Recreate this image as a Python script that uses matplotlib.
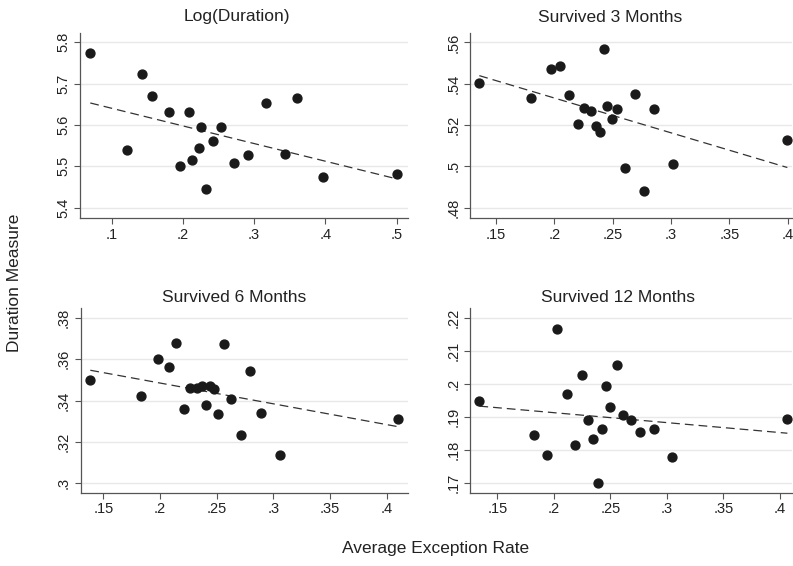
import numpy as np
import matplotlib
matplotlib.use("Agg")
import matplotlib.pyplot as plt

plt.rcParams['font.family'] = ['Liberation Sans', 'DejaVu Sans']

# Log(Duration)
x_log = [0.070, 0.122, 0.143, 0.156, 0.180, 0.2085, 0.196, 0.226, 0.2535, 0.222,
         0.213, 0.242, 0.232, 0.272, 0.291, 0.316, 0.360, 0.343, 0.396, 0.501]
y_log = [5.773, 5.540, 5.723, 5.669, 5.630, 5.630, 5.500, 5.594, 5.595, 5.545,
         5.515, 5.560, 5.444, 5.508, 5.526, 5.652, 5.666, 5.529, 5.473, 5.480]
fit_log = [5.653, 5.469]   # fitted values at min / max x

# Survived 3 Months
x_3m = [0.1357, 0.1803, 0.1969, 0.2049, 0.2123, 0.220, 0.2257, 0.2314, 0.2357, 0.2391,
        0.2423, 0.2454, 0.2497, 0.254, 0.2609, 0.2689, 0.2771, 0.2857, 0.3017, 0.3997]
y_3m = [0.5403, 0.5331, 0.5473, 0.5487, 0.5344, 0.5203, 0.5284, 0.5269, 0.5197, 0.5166,
        0.5568, 0.5290, 0.5227, 0.5276, 0.4994, 0.5352, 0.4881, 0.5276, 0.5013, 0.5127]
fit_3m = [0.5439, 0.4994]

# Survived 6 Months
x_6m = [0.1385, 0.1835, 0.1985, 0.2076, 0.2144, 0.2209, 0.2265, 0.2324, 0.2374, 0.2409,
        0.2438, 0.2476, 0.2515, 0.2565, 0.2629, 0.2712, 0.2794, 0.2891, 0.3056, 0.4097]
y_6m = [0.3497, 0.3422, 0.3602, 0.3562, 0.3678, 0.3361, 0.3460, 0.3462, 0.3472, 0.3377,
        0.3468, 0.3454, 0.3335, 0.3674, 0.3406, 0.3232, 0.3541, 0.3341, 0.3135, 0.3309]
fit_6m = [0.3546, 0.3274]

# Survived 12 Months
x_12m = [0.1341, 0.1821, 0.1939, 0.2025, 0.2116, 0.2184, 0.2249, 0.2302, 0.2349, 0.239,
         0.2423, 0.2458, 0.2499, 0.2555, 0.2614, 0.2685, 0.2762, 0.2886, 0.3048, 0.4065]
y_12m = [0.1946, 0.1845, 0.1785, 0.2165, 0.1970, 0.1814, 0.2026, 0.1891, 0.1833, 0.1698,
         0.1862, 0.1993, 0.1929, 0.2056, 0.1904, 0.1891, 0.1855, 0.1862, 0.1779, 0.1893]
fit_12m = [0.1932, 0.1850]

titles = ["Log(Duration)", "Survived 3 Months", "Survived 6 Months", "Survived 12 Months"]
xticks_all = [[0.1, 0.2, 0.3, 0.4, 0.5],
              [0.15, 0.2, 0.25, 0.3, 0.35, 0.4],
              [0.15, 0.2, 0.25, 0.3, 0.35, 0.4],
              [0.15, 0.2, 0.25, 0.3, 0.35, 0.4]]
yticks_all = [[5.4, 5.5, 5.6, 5.7, 5.8],
              [0.48, 0.5, 0.52, 0.54, 0.56],
              [0.3, 0.32, 0.34, 0.36, 0.38],
              [0.17, 0.18, 0.19, 0.2, 0.21, 0.22]]


def lab(v):
    s = ('%.2f' % v).rstrip('0').rstrip('.')
    if s.startswith('0.'):
        s = s[1:]
    return s


W, H = 793, 566
fig = plt.figure(figsize=(W / 100, H / 100), dpi=100)

# axes boxes in pixels: left, right, top, bottom
boxes = [(80.3, 408.3, 32.7, 218.3), (470, 792, 32.7, 218.3),
         (80.7, 408.3, 308.3, 492.7), (470, 792, 308.3, 492.7)]
xlims = [(0.056, 0.5164), (0.1277, 0.4037), (0.13, 0.4191), (0.1258, 0.4106)]
ylims = [(5.374, 5.823), (0.4748, 0.5647), (0.2955, 0.3845), (0.1670, 0.2228)]
title_pos = [(237, 17), (610, 17), (234, 297), (618, 297)]

data = [(x_log, y_log, fit_log), (x_3m, y_3m, fit_3m),
        (x_6m, y_6m, fit_6m), (x_12m, y_12m, fit_12m)]

for i, (xs, ys, fit) in enumerate(data):
    l, r, t, b = boxes[i]
    ax = fig.add_axes([l / W, 1 - b / H, (r - l) / W, (b - t) / H])
    xs = np.array(xs)
    ys = np.array(ys)
    ax.plot(xs, ys, 'o', color='#1a1a1a', ms=6.4, zorder=3)
    ax.plot([xs.min(), xs.max()], fit, color='#333333', lw=0.9, dashes=(7, 4), zorder=2)
    ax.set_xlim(*xlims[i])
    ax.set_ylim(*ylims[i])
    ax.set_xticks(xticks_all[i])
    ax.set_xticklabels([lab(v) for v in xticks_all[i]])
    ax.set_yticks(yticks_all[i])
    ax.set_yticklabels([lab(v) for v in yticks_all[i]], rotation=90, va='center')
    for v in yticks_all[i]:
        ax.axhline(v, color='#e8e8e8', lw=1.0, zorder=0)
    for s in ['top', 'right']:
        ax.spines[s].set_visible(False)
    for s in ['left', 'bottom']:
        ax.spines[s].set_color('#555555')
        ax.spines[s].set_linewidth(0.9)
    ax.tick_params(direction='out', length=4, width=0.8, color='#555555',
                   labelsize=10.5, labelcolor='#222222', pad=3)
    tx, ty = title_pos[i]
    fig.text(tx / W, 1 - ty / H, titles[i], ha='center', va='center',
             fontsize=12.5, color='#222222')

fig.text(15 / W, 1 - 283 / H, "Duration Measure", rotation=90, ha='center',
         va='center', fontsize=12.5, color='#222222')
fig.text(436 / W, 1 - 548 / H, "Average Exception Rate", ha='center',
         va='center', fontsize=12.5, color='#222222')

fig.savefig("out.png", dpi=100)
